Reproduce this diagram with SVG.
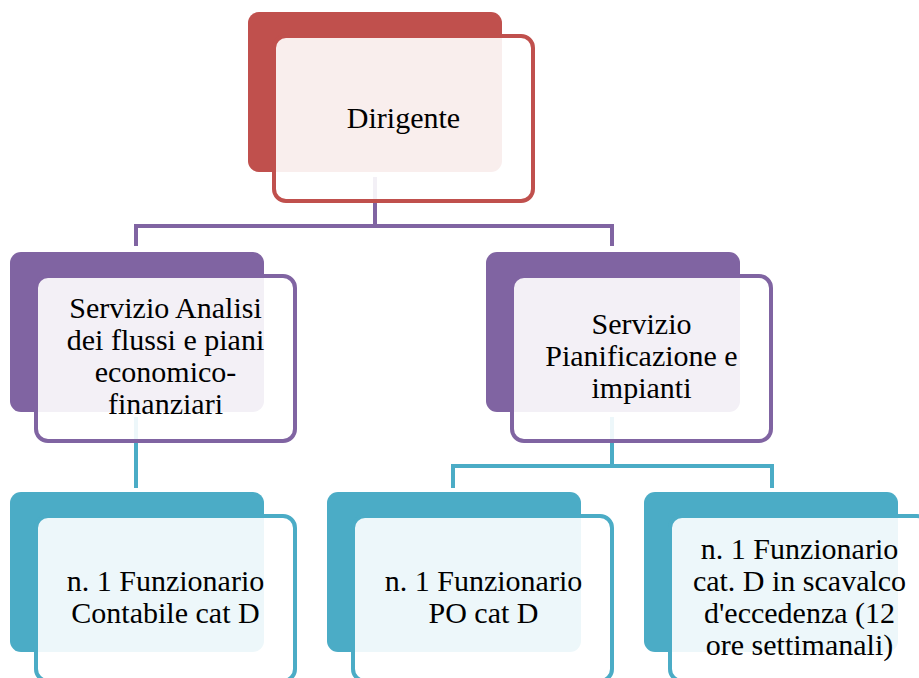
<svg xmlns="http://www.w3.org/2000/svg" width="919" height="678" viewBox="0 0 919 678">
<style>
.back{stroke:none}
.front{fill:#ffffff;fill-opacity:0.9;stroke-width:4}
.red .back{fill:#c0504d}.red .front{stroke:#c0504d}
.pur .back{fill:#8064a2}.pur .front{stroke:#8064a2}
.blu .back{fill:#4bacc6}.blu .front{stroke:#4bacc6}
.conn{fill:none;stroke-width:4;stroke-linejoin:miter}
.t{font-size:30px;fill:#000000;text-anchor:middle}
</style>
<rect width="919" height="678" fill="#ffffff"/>
<g id="connectors">
<path class="conn" stroke="#8064a2" d="M375 177V226M136 246V226H612V246"/>
<path class="conn" stroke="#4bacc6" d="M136 417V488"/>
<path class="conn" stroke="#4bacc6" d="M612 417V466M453 488V466H772V488"/>
</g>
<g id="dirigente" class="red">
<rect class="back" x="248" y="12" width="254" height="160" rx="11"/>
<rect class="front" x="274" y="36" width="259" height="165" rx="12"/>
<text class="t" font-family="'Liberation Serif', 'DejaVu Serif', serif" x="403.5" y="128">Dirigente</text>
</g>
<g id="servizio-analisi" class="pur">
<rect class="back" x="10" y="252" width="254" height="160" rx="11"/>
<rect class="front" x="36" y="276" width="259" height="165" rx="12"/>
<text class="t" font-family="'Liberation Serif', 'DejaVu Serif', serif" x="165.5"><tspan x="165.5" y="318">Servizio Analisi</tspan><tspan x="165.5" y="350">dei flussi e piani</tspan><tspan x="165.5" y="382">economico-</tspan><tspan x="165.5" y="414">finanziari</tspan></text>
</g>
<g id="servizio-pianificazione" class="pur">
<rect class="back" x="486" y="252" width="254" height="160" rx="11"/>
<rect class="front" x="512" y="276" width="259" height="165" rx="12"/>
<text class="t" font-family="'Liberation Serif', 'DejaVu Serif', serif" x="641.5"><tspan x="641.5" y="334">Servizio</tspan><tspan x="641.5" y="366">Pianificazione e</tspan><tspan x="641.5" y="398">impianti</tspan></text>
</g>
<g id="funzionario-contabile" class="blu">
<rect class="back" x="10" y="492" width="254" height="160" rx="11"/>
<rect class="front" x="36" y="516" width="259" height="165" rx="12"/>
<text class="t" font-family="'Liberation Serif', 'DejaVu Serif', serif" x="165.5"><tspan x="165.5" y="591">n. 1 Funzionario</tspan><tspan x="165.5" y="623">Contabile cat D</tspan></text>
</g>
<g id="funzionario-po" class="blu">
<rect class="back" x="327" y="492" width="254" height="160" rx="11"/>
<rect class="front" x="353" y="516" width="259" height="165" rx="12"/>
<text class="t" font-family="'Liberation Serif', 'DejaVu Serif', serif" x="483.5"><tspan x="483.5" y="591">n. 1 Funzionario</tspan><tspan x="483.5" y="623">PO cat D</tspan></text>
</g>
<g id="funzionario-scavalco" class="blu">
<rect class="back" x="644" y="492" width="254" height="160" rx="11"/>
<rect class="front" x="670" y="516" width="259" height="165" rx="12"/>
<text class="t" font-family="'Liberation Serif', 'DejaVu Serif', serif" x="799.5"><tspan x="799.5" y="559">n. 1 Funzionario</tspan><tspan x="799.5" y="591">cat. D in scavalco</tspan><tspan x="799.5" y="623">d'eccedenza (12</tspan><tspan x="799.5" y="655">ore settimanali)</tspan></text>
</g>
</svg>
